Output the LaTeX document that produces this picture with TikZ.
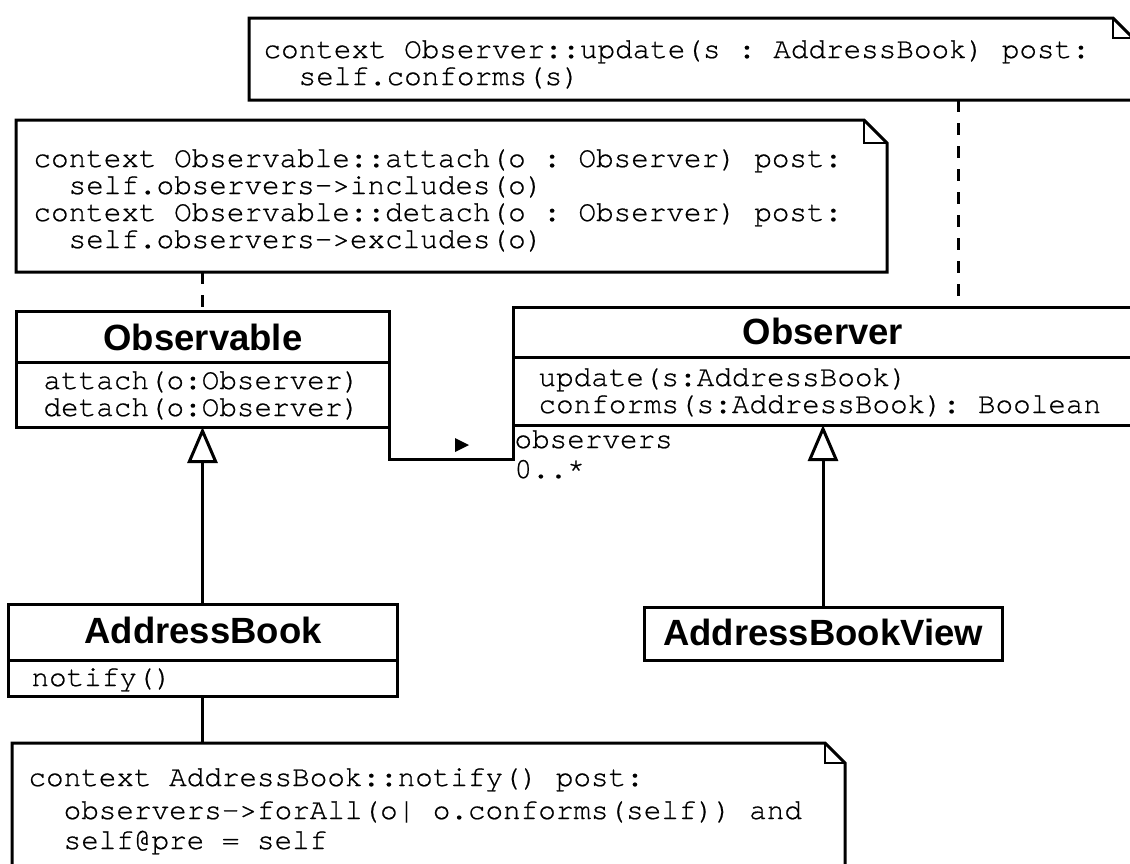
\documentclass[tikz,border=0pt]{standalone}
\usepackage{fontspec}
\setsansfont{Liberation Sans}
\setmonofont[FakeBold=0.6]{TeX Gyre Cursor}
\usetikzlibrary{arrows.meta}
\begin{document}
\begin{tikzpicture}[x=1pt,y=-1pt,line width=3pt,
  classbox/.style={draw, line width=3pt, rectangle, inner sep=0pt, outer sep=0pt},
  notearea/.style={rectangle, inner sep=0pt, outer sep=0pt},
  mono/.style={font=\ttfamily\fontsize{29.3}{30}\selectfont, inner sep=0pt, anchor=base west},
  ctitle/.style={font=\sffamily\bfseries\fontsize{36.5}{40}\selectfont, inner sep=0pt, anchor=base},
  dashedline/.style={line width=3pt, dash pattern=on 12pt off 11pt},
  gen/.style={line width=3pt, -{Triangle[open, length=36pt, width=30pt]}},
  foldline/.style={line width=1.5pt},
  noteline/.style={line width=3pt, line join=miter},
]
\useasboundingbox (0,0) rectangle (1130,863);
\clip (0,0) rectangle (1130,863);
\fill[white] (0,0) rectangle (1130,863);

% ---------- notes ----------
\node[notearea, minimum width=884pt, minimum height=82pt] (noteTop) at (691,59) {};
\draw[noteline] (noteTop.north west) -- ([xshift=-20pt]noteTop.north east) -- ([yshift=-20pt]noteTop.north east)
  -- (noteTop.south east) -- (noteTop.south west) -- cycle;
\draw[foldline] ([xshift=-20pt]noteTop.north east) -- ([xshift=-20pt,yshift=-20pt]noteTop.north east) -- ([yshift=-20pt]noteTop.north east);
\node[mono] (t1) at (262,58) {context Observer::update(s : AddressBook) post:};
\node[mono] (t2) at (262,85) {\hphantom{xx}self.conforms(s)};

\node[notearea, minimum width=871pt, minimum height=152pt] (noteB) at (451.5,196) {};
\draw[noteline] (noteB.north west) -- ([xshift=-23pt]noteB.north east) -- ([yshift=-23pt]noteB.north east)
  -- (noteB.south east) -- (noteB.south west) -- cycle;
\draw[foldline] ([xshift=-23pt]noteB.north east) -- ([xshift=-23pt,yshift=-23pt]noteB.north east) -- ([yshift=-23pt]noteB.north east);
\node[mono] (b1) at (32,167) {context Observable::attach(o : Observer) post:};
\node[mono] (b2) at (32,194) {\hphantom{xx}self.observers->includes(o)};
\node[mono] (b3) at (32,221) {context Observable::detach(o : Observer) post:};
\node[mono] (b4) at (32,248) {\hphantom{xx}self.observers->excludes(o)};

\node[notearea, minimum width=833pt, minimum height=137pt] (noteAB) at (428.5,811.5) {};
\draw[noteline] (noteAB.north west) -- ([xshift=-20pt]noteAB.north east) -- ([yshift=-20pt]noteAB.north east)
  -- (noteAB.south east) -- (noteAB.south west) -- cycle;
\draw[foldline] ([xshift=-20pt]noteAB.north east) -- ([xshift=-20pt,yshift=-20pt]noteAB.north east) -- ([yshift=-20pt]noteAB.north east);
\node[mono] (c1) at (27,786) {context AddressBook::notify() post:};
\node[mono] (c2) at (27,819) {\hphantom{xx}observers->forAll(o| o.conforms(self)) and};
\node[mono] (c3) at (27,849) {\hphantom{xx}self@pre = self};

% ---------- classes ----------
\node[classbox, minimum width=373pt, minimum height=116pt] (observable) at (202.5,369) {};
\draw ([yshift=-51pt]observable.north west) -- ([yshift=-51pt]observable.north east);
\node[ctitle] (observableT) at (203,350) {Observable};
\node[mono] (m1) at (42,389) {attach(o:Observer)};
\node[mono] (m2) at (42,416) {detach(o:Observer)};

\node[classbox, minimum width=623pt, minimum height=118pt] (observer) at (824.5,366) {};
\draw ([yshift=-50pt]observer.north west) -- ([yshift=-50pt]observer.north east);
\node[ctitle] (observerT) at (823,344) {Observer};
\node[mono] (m3) at (537,386) {update(s:AddressBook)};
\node[mono] (m4) at (537,413) {conforms(s:AddressBook): Boolean};

\node[classbox, minimum width=389pt, minimum height=92pt] (addressBook) at (202.5,650) {};
\draw ([yshift=-56pt]addressBook.north west) -- ([yshift=-56pt]addressBook.north east);
\node[ctitle] (addressBookT) at (203,643) {AddressBook};
\node[mono] (m5) at (30,686) {notify()};

\node[classbox, minimum width=358pt, minimum height=53pt] (abView) at (823,633.5) {};
\node[ctitle] (abViewT) at (823,645) {AddressBookView};

% ---------- connectors ----------
\coordinate (dTop) at (958,0);
\draw[dashedline] (noteTop.south -| dTop) -- (observer.north -| dTop);
\draw[dashedline] (noteB.south -| observable.north) -- (observable.north);

\draw[line join=miter] (observable.south east) -- ++(0,32) -| (observer.south west);
\fill (455,438) -- (469,445) -- (455,452) -- cycle;
\node[mono] (roleName) at (513,448) {observers};
\node[mono] (roleMult) at (513,478) {0..*};

\draw[gen] (addressBook.north) -- (observable.south -| addressBook.north);
\draw[gen] (abView.north) -- (observer.south -| abView.north);
\draw (addressBook.south) -- (noteAB.north -| addressBook.south);
\end{tikzpicture}
\end{document}
